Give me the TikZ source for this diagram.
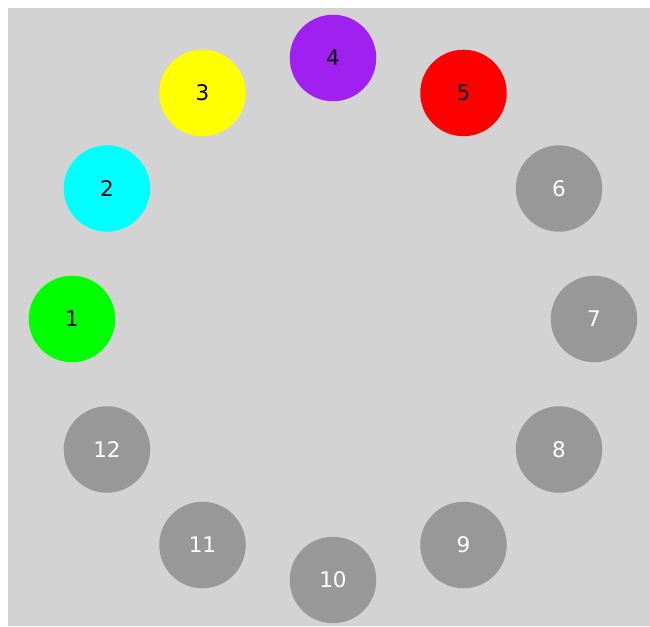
\documentclass[tikz,border=0pt]{standalone}
\usepackage{fontspec}
\setmainfont{DejaVu Sans}
\usetikzlibrary{calc}
\definecolor{bggray}{HTML}{D3D3D3}
\definecolor{dotgray}{HTML}{989898}
\definecolor{cgreen}{HTML}{00FF00}
\definecolor{ccyan}{HTML}{00FFFF}
\definecolor{cyellow}{HTML}{FFFF00}
\definecolor{cpurple}{HTML}{A020F0}
\definecolor{cred}{HTML}{FF0000}
\begin{document}
\begin{tikzpicture}[x=1pt,y=1pt,
  dot/.style={circle,minimum size=86.5pt,inner sep=0pt,font=\fontsize{21.5}{24}\selectfont},
  lit/.style={dot,fill=#1,text=black},
  dim/.style={dot,fill=dotgray,text=white}]
\useasboundingbox (0,0) rectangle (650,626);
\fill[bggray] (8,0) rectangle (650,618);
\coordinate (c) at (333,307);
\node[lit=cgreen]  (n1)  at ($(c)+(180:261)$) {1};
\node[lit=ccyan]   (n2)  at ($(c)+(150:261)$) {2};
\node[lit=cyellow] (n3)  at ($(c)+(120:261)$) {3};
\node[lit=cpurple] (n4)  at ($(c)+(90:261)$) {4};
\node[lit=cred]    (n5)  at ($(c)+(60:261)$) {5};
\node[dim] (n6)  at ($(c)+(30:261)$) {6};
\node[dim] (n7)  at ($(c)+(0:261)$) {7};
\node[dim] (n8)  at ($(c)+(-30:261)$) {8};
\node[dim] (n9)  at ($(c)+(-60:261)$) {9};
\node[dim] (n10) at ($(c)+(-90:261)$) {10};
\node[dim] (n11) at ($(c)+(-120:261)$) {11};
\node[dim] (n12) at ($(c)+(-150:261)$) {12};
\end{tikzpicture}
\end{document}
